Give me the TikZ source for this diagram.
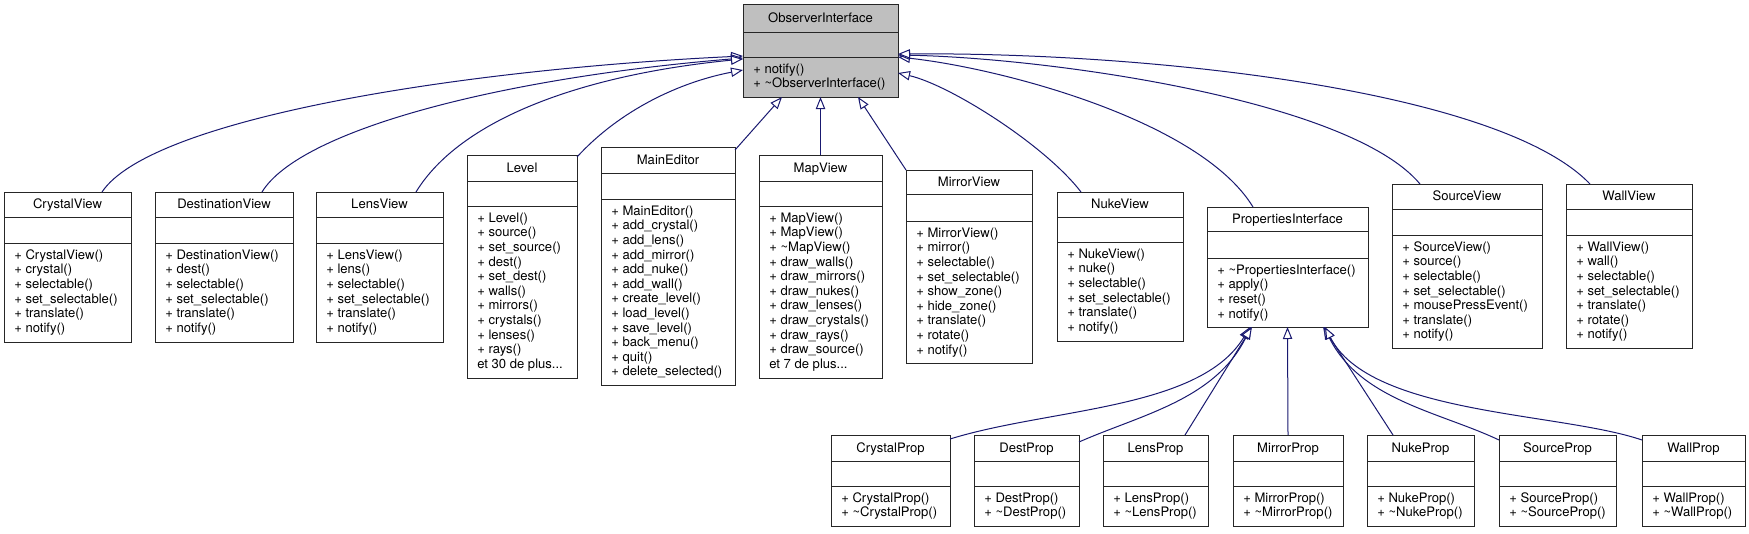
\documentclass[tikz,border=0pt]{standalone}
\usepackage{fontspec}
\setmainfont{TeX Gyre Heros}
\usetikzlibrary{arrows.meta,fit,calc}

\definecolor{edgeblue}{HTML}{191970}
\definecolor{obsgray}{HTML}{BFBFBF}

\newcommand{\classfont}{\fontsize{9.8}{10.95}\selectfont}

% name, left, top, right, bottom, sep1, sep2, title, operations
\newcommand{\umlclass}[9]{%
  \node[classbox, fit={(#2,#3) (#4,#5)}] (#1) {};
  \draw[classbox line] (#2,#6) -- (#4,#6);
  \draw[classbox line] (#2,#7) -- (#4,#7);
  \node[classtitle] at ({(#2+#4)/2},{(#3+#6)/2+4}) {#8};
  \node[classops] at (#2+10,#7+6) {\rule{0pt}{7.5pt}#9};
}

\tikzset{
  classbox/.style={draw=black!85, fill=white, line width=0.75pt, inner sep=0pt, outer sep=0pt},
  classbox line/.style={draw=black!85, line width=0.75pt},
  classtitle/.style={anchor=base, inner sep=0pt, font=\classfont},
  classops/.style={anchor=north west, align=left, inner sep=0pt, font=\classfont},
  inherit/.style={draw=edgeblue, line width=0.75pt, -{Triangle[fill=white, length=9pt, width=7pt]}},
}

\begin{document}
\begin{tikzpicture}[x=0.75pt, y=-0.75pt]
  \path[use as bounding box, fill=white] (0,0) rectangle (1749,533);

  \begin{scope}[classbox/.append style={fill=obsgray}]
    \umlclass{observer}{743}{4}{898}{97}{32}{57}{ObserverInterface}%
      {+ notify()\\+ \textasciitilde ObserverInterface()}
  \end{scope}

  % first row
  \umlclass{crystalview}{4}{192}{131}{342}{217}{243}{CrystalView}%
    {+ CrystalView()\\+ crystal()\\+ selectable()\\+ set\_selectable()\\+ translate()\\+ notify()}
  \umlclass{destinationview}{155}{192}{293}{342}{217}{243}{DestinationView}%
    {+ DestinationView()\\+ dest()\\+ selectable()\\+ set\_selectable()\\+ translate()\\+ notify()}
  \umlclass{lensview}{316}{192}{443}{342}{217}{243}{LensView}%
    {+ LensView()\\+ lens()\\+ selectable()\\+ set\_selectable()\\+ translate()\\+ notify()}
  \umlclass{level}{467}{155}{577}{378}{181}{206}{Level}%
    {+ Level()\\+ source()\\+ set\_source()\\+ dest()\\+ set\_dest()\\+ walls()\\+ mirrors()\\+ crystals()\\+ lenses()\\+ rays()\\et 30 de plus...}
  \umlclass{maineditor}{601}{147}{735}{385}{173}{199}{MainEditor}%
    {+ MainEditor()\\+ add\_crystal()\\+ add\_lens()\\+ add\_mirror()\\+ add\_nuke()\\+ add\_wall()\\+ create\_level()\\+ load\_level()\\+ save\_level()\\+ back\_menu()\\+ quit()\\+ delete\_selected()}
  \umlclass{mapview}{759}{155}{882}{378}{181}{206}{MapView}%
    {+ MapView()\\+ MapView()\\+ \textasciitilde MapView()\\+ draw\_walls()\\+ draw\_mirrors()\\+ draw\_nukes()\\+ draw\_lenses()\\+ draw\_crystals()\\+ draw\_rays()\\+ draw\_source()\\et 7 de plus...}
  \umlclass{mirrorview}{906}{170}{1032}{363}{194}{221}{MirrorView}%
    {+ MirrorView()\\+ mirror()\\+ selectable()\\+ set\_selectable()\\+ show\_zone()\\+ hide\_zone()\\+ translate()\\+ rotate()\\+ notify()}
  \umlclass{nukeview}{1057}{192}{1183}{341}{217}{242}{NukeView}%
    {+ NukeView()\\+ nuke()\\+ selectable()\\+ set\_selectable()\\+ translate()\\+ notify()}
  \umlclass{propertiesinterface}{1207}{207}{1368}{327}{231}{258}{PropertiesInterface}%
    {+ \textasciitilde PropertiesInterface()\\+ apply()\\+ reset()\\+ notify()}
  \umlclass{sourceview}{1392}{184}{1542}{348}{209}{235}{SourceView}%
    {+ SourceView()\\+ source()\\+ selectable()\\+ set\_selectable()\\+ mousePressEvent()\\+ translate()\\+ notify()}
  \umlclass{wallview}{1566}{184}{1692}{348}{209}{235}{WallView}%
    {+ WallView()\\+ wall()\\+ selectable()\\+ set\_selectable()\\+ translate()\\+ rotate()\\+ notify()}

  % second row
  \umlclass{crystalprop}{831}{435}{950}{526}{461}{486}{CrystalProp}%
    {+ CrystalProp()\\+ \textasciitilde CrystalProp()}
  \umlclass{destprop}{974}{435}{1079}{526}{461}{486}{DestProp}%
    {+ DestProp()\\+ \textasciitilde DestProp()}
  \umlclass{lensprop}{1103}{435}{1208}{526}{461}{486}{LensProp}%
    {+ LensProp()\\+ \textasciitilde LensProp()}
  \umlclass{mirrorprop}{1233}{435}{1343}{526}{461}{486}{MirrorProp}%
    {+ MirrorProp()\\+ \textasciitilde MirrorProp()}
  \umlclass{nukeprop}{1367}{435}{1474}{526}{461}{486}{NukeProp}%
    {+ NukeProp()\\+ \textasciitilde NukeProp()}
  \umlclass{sourceprop}{1499}{435}{1616}{526}{461}{486}{SourceProp}%
    {+ SourceProp()\\+ \textasciitilde SourceProp()}
  \umlclass{wallprop}{1642}{435}{1745}{526}{461}{486}{WallProp}%
    {+ WallProp()\\+ \textasciitilde WallProp()}

  % inheritance from ObserverInterface
  \draw[inherit] ($(crystalview.north west)+(98,0)$) .. controls (150,120) and (450,70) .. ($(observer.north west)+(0,52)$);
  \draw[inherit] ($(destinationview.north west)+(107,0)$) .. controls (300,130) and (500,78) .. ($(observer.north west)+(0,54)$);
  \draw[inherit] ($(lensview.north west)+(100,0)$) .. controls (460,120) and (580,75) .. ($(observer.north west)+(0,55)$);
  \draw[inherit] ($(level.north east)+(0,2)$) .. controls (620,110) and (680,82) .. ($(observer.north west)+(0,66)$);
  \draw[inherit] ($(maineditor.north east)+(0,3)$) -- ($(observer.south west)+(39,0)$);
  \draw[inherit] (mapview.north) -- (observer.south);
  \draw[inherit] (mirrorview.north west) -- ($(observer.south east)+(-40,0)$);
  \draw[inherit] ($(nukeview.north west)+(24,0)$) .. controls (1045,145) and (950,85) .. ($(observer.north east)+(0,69)$);
  \draw[inherit] ($(propertiesinterface.north west)+(46,0)$) .. controls (1200,120) and (1000,68) .. ($(observer.north east)+(0,53)$);
  \draw[inherit] ($(sourceview.north west)+(28,0)$) .. controls (1350,100) and (1050,58) .. ($(observer.north east)+(0,51)$);
  \draw[inherit] ($(wallview.north west)+(24,0)$) .. controls (1500,90) and (1150,52) .. ($(observer.north east)+(0,50)$);

  % inheritance from PropertiesInterface
  \draw[inherit] ($(crystalprop.north east)+(0,4)$) .. controls (1050,408) and (1200,410) .. ($(propertiesinterface.south west)+(43,0)$);
  \draw[inherit] ($(destprop.north east)+(0,7)$) .. controls (1140,415) and (1215,400) .. ($(propertiesinterface.south west)+(44,0)$);
  \draw[inherit] ($(lensprop.north west)+(82,0)$) -- ($(propertiesinterface.south west)+(45,0)$);
  \draw[inherit] (mirrorprop.north) -- (propertiesinterface.south);
  \draw[inherit] ($(nukeprop.north west)+(26,0)$) -- ($(propertiesinterface.south east)+(-45,0)$);
  \draw[inherit] ($(sourceprop.north west)+(0,5)$) .. controls (1440,412) and (1360,400) .. ($(propertiesinterface.south east)+(-44,0)$);
  \draw[inherit] ($(wallprop.north west)+(0,5)$) .. controls (1560,412) and (1370,415) .. ($(propertiesinterface.south east)+(-43,0)$);
\end{tikzpicture}
\end{document}
